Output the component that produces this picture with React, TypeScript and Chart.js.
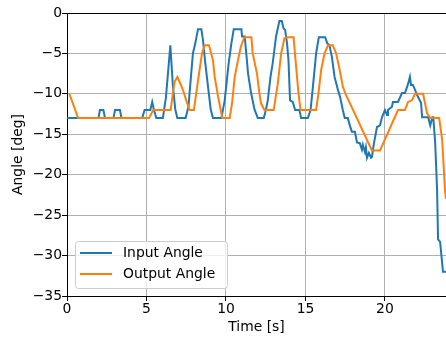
import React, { useEffect, useRef } from "react";
import { Chart, registerables } from "chart.js";

Chart.register(...registerables);

const inputTime = [
  0, 1.98, 2.07, 2.29, 2.39, 2.92, 3.02, 3.33, 3.43, 4.73, 4.88, 5.24, 5.36, 5.47, 5.62, 6.03, 6.22, 6.5, 6.66, 6.81,
  6.94, 7.46, 7.64, 7.71, 7.92, 8.07, 8.24, 8.45, 8.55, 8.7, 8.87, 9.04, 9.18, 9.71, 9.92, 10.17, 10.34, 10.49, 10.97, 11.01,
  11.18, 11.3, 11.39, 11.58, 11.79, 12.0, 12.38, 12.52, 12.63, 12.8, 12.94, 13.15, 13.36, 13.51, 13.62, 13.72, 13.84, 13.93, 14.03, 14.2,
  14.35, 14.62, 14.73, 15.15, 15.32, 15.46, 15.67, 15.84, 16.24, 16.37, 16.51, 16.66, 16.83, 17.04, 17.18, 17.35, 17.47, 17.66, 17.79, 17.92,
  18.11, 18.24, 18.42, 18.55, 18.61, 18.74, 18.8, 18.87, 18.99, 19.12, 19.18, 19.31, 19.5, 19.69, 19.81, 20.0, 20.13, 20.19, 20.44, 20.5,
  20.82, 21.07, 21.26, 21.45, 21.57, 21.64, 21.76, 21.89, 22.08, 22.27, 22.34, 22.72, 22.85, 22.98, 23.04, 23.16, 23.28, 23.34, 23.47, 23.65,
  23.84,
];
const inputAngle = [
  -13, -13, -12, -12, -13, -13, -12, -12, -13, -13, -12, -12, -11, -12, -13, -13, -10.5, -4, -9, -11.9,
  -13, -13, -11.6, -9.9, -5, -3.75, -2, -2, -3.3, -6.2, -9.1, -11.9, -13, -13, -10.8, -6.2, -3.75, -2, -2, -2.9,
  -2.9, -5.5, -7.5, -9.9, -11.9, -13, -13, -11.9, -10.8, -7.9, -6.2, -2.9, -1, -1, -1.9, -2.1, -3.75, -5.8, -10.8, -11,
  -12, -12, -13, -13, -12, -9.3, -5, -3, -3, -3.75, -4, -5.4, -7.9, -9.5, -10.4, -12, -13, -13, -13.9, -14.7,
  -14.7, -16, -16.1, -16.9, -16.3, -17.2, -16.6, -17.9, -17.3, -17.9, -17.8, -16.1, -14.1, -13.9, -12.9, -12, -12.6, -12, -11.6, -11,
  -11, -9.9, -9.9, -8.8, -7.9, -8.9, -8.9, -9.5, -10.4, -11.1, -12.9, -12.9, -13.9, -12.9, -12.9, -16.1, -21.9, -28, -28.3, -32,
  -32,
];

const outputTime = [
  0.15, 0.7, 5.16, 5.42, 6.52, 6.66, 6.77, 6.94, 7.08, 7.29, 7.5, 7.71, 7.98, 8.13, 8.34, 8.49, 8.66, 8.93, 9.18, 9.29,
  9.5, 9.67, 9.77, 10.23, 10.38, 10.55, 10.76, 10.93, 11.13, 11.2, 11.6, 11.68, 11.79, 11.95, 12.1, 12.21, 12.42, 13.0, 13.26, 13.47,
  13.68, 13.78, 14.25, 14.41, 14.56, 14.69, 15.67, 15.82, 15.99, 16.2, 16.41, 16.72, 16.93, 17.15, 17.35, 17.5, 19.18, 19.69, 20.82, 21.26,
  21.45, 21.7, 21.89, 22.4, 22.65, 22.85, 23.41, 23.6, 23.78, 23.84,
];
const outputAngle = [
  -10, -13, -13, -12, -12, -9.9, -8.5, -7.9, -8.5, -9.5, -10.8, -12, -12, -9.9, -7, -5, -4, -4, -5.8, -7.9,
  -10.3, -12, -13, -13, -11.2, -7.9, -5.8, -4.2, -3.1, -3, -3, -5, -6, -7.5, -9.9, -11.2, -12, -12, -8.7, -5,
  -3.1, -3, -3, -6.6, -9.9, -12, -12, -9.9, -7, -5, -4, -4, -5, -7, -9.1, -9.9, -17, -17, -12, -12,
  -11, -10.8, -10, -10, -12.4, -13, -13, -15.7, -22, -23,
];

const xTicks = [0, 5, 10, 15, 20];
const yTicks = [-35, -30, -25, -20, -15, -10, -5, 0];
const seriesNames = ["Input Angle", "Output Angle"];
const seriesColors = ["#1f77b4", "#ff7f0e"];

const FONT = '"DejaVu Sans", sans-serif';
const FS = 13.9;

const fmt = (v: number) => (v < 0 ? "\u2212" + Math.abs(v) : String(v));

const framePlugin = {
  id: "frameAndLegend",
  afterDraw(chart: any) {
    const { ctx, chartArea } = chart;
    ctx.save();
    // top spine
    ctx.strokeStyle = "#000";
    ctx.lineWidth = 1;
    ctx.beginPath();
    ctx.moveTo(chartArea.left, Math.round(chartArea.top) + 0.5);
    ctx.lineTo(chartArea.right, Math.round(chartArea.top) + 0.5);
    ctx.stroke();

    // legend
    const bx = 75.5, by = 241.5, bw = 152, bh = 47, r = 3;
    ctx.beginPath();
    ctx.moveTo(bx + r, by);
    ctx.lineTo(bx + bw - r, by);
    ctx.arcTo(bx + bw, by, bx + bw, by + r, r);
    ctx.lineTo(bx + bw, by + bh - r);
    ctx.arcTo(bx + bw, by + bh, bx + bw - r, by + bh, r);
    ctx.lineTo(bx + r, by + bh);
    ctx.arcTo(bx, by + bh, bx, by + bh - r, r);
    ctx.lineTo(bx, by + r);
    ctx.arcTo(bx, by, bx + r, by, r);
    ctx.closePath();
    ctx.fillStyle = "rgba(255,255,255,0.8)";
    ctx.fill();
    ctx.strokeStyle = "#cccccc";
    ctx.lineWidth = 1;
    ctx.stroke();

    const rows = [253, 274];
    ctx.font = `${FS}px ${FONT}`;
    ctx.textBaseline = "middle";
    ctx.textAlign = "left";
    rows.forEach((y, i) => {
      ctx.strokeStyle = seriesColors[i];
      ctx.lineWidth = 2;
      ctx.beginPath();
      ctx.moveTo(80, y);
      ctx.lineTo(112, y);
      ctx.stroke();
      ctx.fillStyle = "#000";
      ctx.fillText(seriesNames[i], 123, y);
    });
    ctx.restore();
  },
};

export default function App() {
  const ref = useRef<HTMLCanvasElement | null>(null);
  useEffect(() => {
    if (!ref.current) return;
    const chart = new Chart(ref.current, {
      type: "line",
      data: {
        datasets: [
          {
            label: seriesNames[0],
            data: inputTime.map((t, i) => ({ x: t, y: inputAngle[i] })),
            borderColor: seriesColors[0],
            borderWidth: 2,
            pointRadius: 0,
            tension: 0,
            order: 2,
          },
          {
            label: seriesNames[1],
            data: outputTime.map((t, i) => ({ x: t, y: outputAngle[i] })),
            borderColor: seriesColors[1],
            borderWidth: 2,
            pointRadius: 0,
            tension: 0,
            order: 1,
          },
        ],
      },
      options: {
        responsive: false,
        animation: false,
        events: [],
        layout: { padding: { top: 13, right: 0, left: 0, bottom: 0 } },
        plugins: { legend: { display: false }, tooltip: { enabled: false } },
        scales: {
          x: {
            type: "linear",
            min: 0,
            max: 23.84,
            afterFit: (s: any) => {
              s.height = 44;
            },
            afterBuildTicks: (s: any) => {
              s.ticks = xTicks.map((v) => ({ value: v }));
            },
            ticks: {
              includeBounds: false,
              padding: 0,
              color: "#000",
              font: { family: FONT, size: FS },
              maxRotation: 0,
              callback: (v: any) => fmt(Number(v)),
            },
            grid: { color: "#b0b0b0", lineWidth: 1, tickLength: 5, tickColor: "#000", tickWidth: 1 },
            border: { display: true, color: "#000", width: 1 },
            title: {
              display: true,
              text: "Time [s]",
              color: "#000",
              font: { family: FONT, size: FS },
              padding: { top: 0, bottom: 4 },
            },
          },
          y: {
            type: "linear",
            min: -35,
            max: 0,
            afterFit: (s: any) => {
              s.width = 67;
            },
            afterBuildTicks: (s: any) => {
              s.ticks = yTicks.map((v) => ({ value: v }));
            },
            ticks: {
              includeBounds: false,
              padding: 0,
              color: "#000",
              font: { family: FONT, size: FS },
              callback: (v: any) => fmt(Number(v)),
            },
            grid: { color: "#b0b0b0", lineWidth: 1, tickLength: 5, tickColor: "#000", tickWidth: 1 },
            border: { display: true, color: "#000", width: 1 },
            title: {
              display: true,
              text: "Angle [deg]",
              color: "#000",
              font: { family: FONT, size: FS },
              padding: { top: 10, bottom: 0 },
            },
          },
        },
      },
      plugins: [framePlugin],
    } as any);
    return () => chart.destroy();
  }, []);
  return (
    <div style={{ position: "fixed", left: 0, top: 0, width: 446, height: 340, background: "#fff" }}>
      <canvas ref={ref} width={446} height={340} style={{ width: 446, height: 340, display: "block" }} />
    </div>
  );
}
